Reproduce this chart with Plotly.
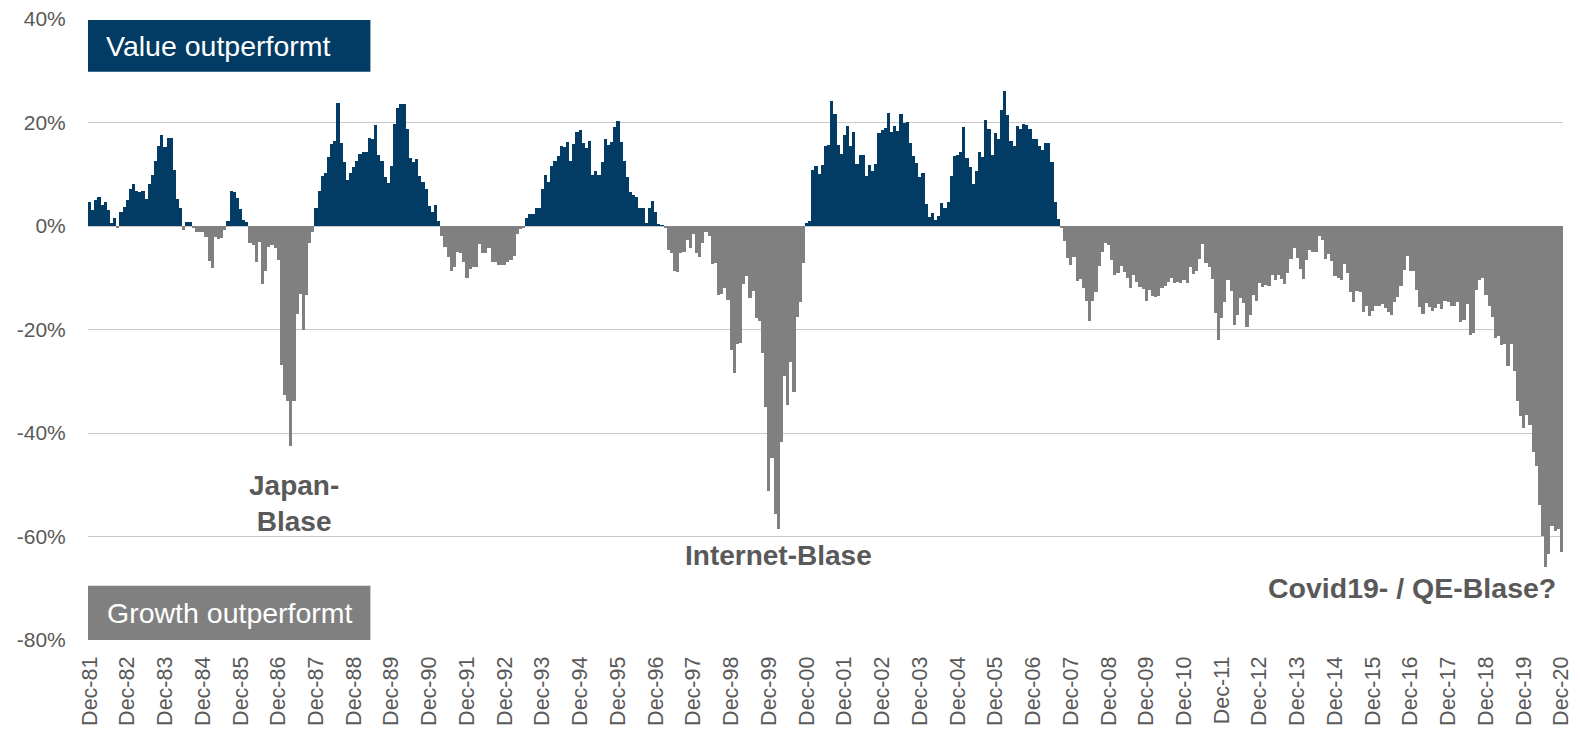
import plotly.graph_objects as go

# Value minus Growth relative performance (%), monthly, Dec-81 .. Dec-20
vals_1981 = [4.6]
vals_1982_1985 = [
    3.0, 5.1, 5.7, 4.1, 4.6, 3.0, 0.6, 1.5, -0.2, 2.7, 3.7, 5.0,
    7.2, 8.1, 6.7, 6.5, 6.7, 5.2, 8.1, 9.9, 12.5, 15.5, 17.5, 15.3,
    17.1, 17.1, 10.9, 5.2, 3.5, -0.8, 0.7, 0.7, -0.4, -1.2, -1.2, -1.2,
    -2.1, -6.8, -8.1, -2.1, -2.6, -2.3, -0.8, 1.0, 6.8, 6.5, 5.4, 3.2,
]
vals_1986_1989 = [
    1.1, 0.8, -3.2, -3.6, -7.0, -3.1, -11.3, -8.7, -4.1, -3.6, -4.3, -6.6,
    -26.8, -32.6, -33.9, -42.5, -33.9, -17.1, -13.1, -20.0, -13.4, -3.2, -1.1, 3.4,
    6.7, 9.7, 10.3, 13.4, 15.9, 16.4, 23.7, 16.1, 12.3, 8.8, 10.3, 11.4,
    12.6, 14.0, 14.3, 14.3, 17.0, 16.9, 19.6, 13.8, 12.5, 9.4, 8.3, 11.6,
]
vals_1990_1994 = [
    19.8, 22.8, 23.5, 23.5, 18.8, 13.2, 12.3, 12.9, 9.7, 8.6, 7.2, 3.9,
    2.7, 4.0, 0.9, -1.9, -4.1, -5.9, -8.6, -7.9, -5.0, -5.2, -7.0, -10.1,
    -8.3, -8.0, -7.9, -3.4, -5.2, -5.2, -4.2, -7.0, -7.0, -7.6, -7.6, -7.6,
    -7.0, -6.6, -5.7, -1.5, -0.6, -0.2, 1.6, 2.4, 2.4, 3.4, 3.5, 7.1,
    9.9, 8.6, 11.5, 12.6, 13.5, 15.5, 15.3, 16.3, 12.6, 15.8, 18.1, 18.6,
]
vals_1995_1999 = [
    16.1, 15.0, 16.4, 9.8, 10.6, 9.8, 12.4, 16.8, 15.7, 16.3, 19.2, 20.3,
    16.3, 12.6, 9.4, 6.5, 5.9, 5.7, 3.5, 3.5, 0.6, 3.5, 4.8, 2.8,
    0.2, 0.1, -0.4, -4.6, -5.2, -8.6, -8.9, -5.2, -5.0, -2.8, -4.2, -1.6,
    -5.2, -6.0, -3.3, -1.2, -1.9, -7.3, -7.2, -13.3, -13.1, -12.0, -14.3, -23.9,
    -28.4, -22.8, -22.6, -11.2, -9.7, -13.9, -12.5, -17.7, -18.4, -24.5, -35.0, -51.2,
]
vals_2000_2004 = [
    -44.9, -55.7, -58.6, -41.8, -29.0, -34.6, -26.2, -32.0, -17.6, -14.7, -7.2, 0.6,
    0.9, 10.8, 11.5, 10.1, 11.7, 15.5, 15.6, 24.2, 21.6, 15.7, 13.9, 17.5,
    19.3, 15.4, 18.1, 11.9, 13.7, 13.8, 9.7, 11.7, 10.6, 11.9, 18.0, 18.5,
    19.0, 21.9, 18.2, 19.4, 18.4, 21.6, 20.0, 20.1, 16.1, 13.5, 12.1, 9.4,
    10.3, 4.2, 1.7, 2.5, 1.1, 1.9, 4.5, 3.5, 4.6, 9.7, 13.5, 13.8,
]
vals_2005_2009 = [
    14.3, 19.2, 13.2, 11.4, 8.1, 10.6, 14.3, 13.4, 20.5, 18.8, 13.7, 17.9,
    16.9, 22.5, 26.1, 21.4, 16.4, 15.5, 19.3, 18.8, 19.7, 19.5, 18.8, 16.8,
    16.8, 15.5, 14.6, 16.1, 16.1, 12.3, 4.6, 1.4, -0.2, -2.9, -6.2, -7.6,
    -5.9, -10.7, -10.2, -11.9, -14.4, -18.4, -14.4, -12.8, -7.8, -5.0, -3.2, -3.7,
    -6.5, -9.4, -9.1, -7.8, -8.9, -10.1, -12.0, -9.4, -10.8, -11.8, -12.1, -14.4,
]
vals_2010_2014 = [
    -12.3, -13.5, -13.7, -13.5, -12.0, -11.5, -10.8, -10.1, -11.0, -10.8, -11.1, -10.4,
    -11.0, -8.0, -9.2, -8.7, -6.3, -3.5, -7.2, -8.0, -10.2, -16.9, -22.0, -17.7,
    -14.7, -10.5, -12.6, -19.1, -17.2, -13.9, -14.8, -19.5, -17.2, -13.4, -14.4, -11.0,
    -11.8, -11.4, -11.6, -9.5, -10.4, -9.4, -10.3, -11.3, -9.0, -6.3, -4.2, -6.1,
    -8.3, -10.2, -6.6, -4.7, -5.0, -5.0, -2.0, -2.8, -6.3, -5.4, -6.8, -9.7,
]
vals_2015_2020 = [
    -10.1, -10.4, -7.3, -9.0, -12.8, -14.7, -12.5, -12.8, -16.6, -15.4, -17.4, -16.5,
    -15.4, -15.4, -15.0, -15.9, -16.6, -17.2, -14.6, -13.8, -11.5, -8.5, -5.7, -8.6,
    -8.6, -12.4, -15.7, -17.0, -14.8, -15.7, -16.4, -15.8, -15.0, -16.0, -14.4, -14.7,
    -15.5, -15.5, -14.6, -18.6, -18.1, -15.0, -21.0, -20.7, -12.3, -10.5, -10.0, -13.4,
    -15.4, -17.5, -21.6, -21.2, -23.0, -22.8, -27.1, -22.8, -28.1, -33.9, -36.8, -39.1,
    -36.6, -38.4, -43.7, -46.3, -53.9, -59.9, -65.8, -63.4, -57.9, -59.0, -58.5, -62.9,
]

values = (vals_1981 + vals_1982_1985 + vals_1986_1989 + vals_1990_1994 +
          vals_1995_1999 + vals_2000_2004 + vals_2005_2009 + vals_2010_2014 +
          vals_2015_2020)

years = list(range(81, 100)) + list(range(0, 21))
tick_labels = ["Dec-%02d" % y for y in years]
y_ticks = [-80, -60, -40, -20, 0, 20, 40]
y_tick_labels = ["-80%", "-60%", "-40%", "-20%", "0%", "20%", "40%"]

BLUE = "#023B64"
GREY = "#808080"
TXT = "#595959"
FONT = "Liberation Sans, Arial, sans-serif"

n = len(values)
xs = list(range(n))
colors = [BLUE if v >= 0 else GREY for v in values]

fig = go.Figure()
fig.add_trace(go.Bar(x=xs, y=values, marker=dict(color=colors, line=dict(width=0)),
                     hoverinfo="y"))

fig.update_layout(
    width=1580, height=731,
    margin=dict(l=88, r=17, t=19, b=91),
    paper_bgcolor="white", plot_bgcolor="white",
    bargap=0, showlegend=False,
    font=dict(family=FONT, color=TXT),
)
fig.update_xaxes(
    range=[-0.5, n - 0.5], automargin=False,
    tickmode="array", tickvals=list(range(0, n, 12)), ticktext=tick_labels,
    tickangle=-90, tickfont=dict(size=21.5, color=TXT, family=FONT),
    showgrid=False, zeroline=False, showline=False,
    ticks="outside", ticklen=7, tickcolor="rgba(0,0,0,0)",
)
fig.update_yaxes(
    range=[-80, 40], automargin=False,
    tickmode="array", tickvals=y_ticks, ticktext=y_tick_labels,
    tickfont=dict(size=21, color=TXT, family=FONT),
    showgrid=True, gridcolor="#C8C8C8", gridwidth=1,
    zeroline=False, showline=False,
    ticks="outside", ticklen=17, tickcolor="rgba(0,0,0,0)",
)

# label boxes
fig.add_shape(type="rect", xref="x", yref="y", x0=-0.5, x1=89.3, y0=29.8, y1=39.8,
              fillcolor=BLUE, line=dict(width=0), layer="above")
fig.add_shape(type="rect", xref="x", yref="y", x0=-0.5, x1=89.3, y0=-80, y1=-69.5,
              fillcolor=GREY, line=dict(width=0), layer="above")
fig.add_annotation(x=4.7, y=34.8, xref="x", yref="y", text="Value outperformt",
                   showarrow=False, xanchor="left", yanchor="middle",
                   font=dict(size=28.5, color="white", family=FONT))
fig.add_annotation(x=5.0, y=-74.8, xref="x", yref="y", text="Growth outperformt",
                   showarrow=False, xanchor="left", yanchor="middle",
                   font=dict(size=28.5, color="white", family=FONT))

# bubble labels
fig.add_annotation(x=65.1, y=-53.6, xref="x", yref="y", text="<b>Japan-<br>Blase</b>",
                   showarrow=False, xanchor="center", yanchor="middle", align="center",
                   font=dict(size=28, color=TXT, family=FONT))
fig.add_annotation(x=219.1, y=-63.6, xref="x", yref="y", text="<b>Internet-Blase</b>",
                   showarrow=False, xanchor="center", yanchor="middle",
                   font=dict(size=28, color=TXT, family=FONT))
fig.add_annotation(x=467.0, y=-69.9, xref="x", yref="y", text="<b>Covid19- / QE-Blase?</b>",
                   showarrow=False, xanchor="right", yanchor="middle",
                   font=dict(size=28.5, color=TXT, family=FONT))

fig.write_html("out.html", config={"displayModeBar": False},
               post_script="document.body.style.margin='0';document.body.style.overflow='hidden';")
